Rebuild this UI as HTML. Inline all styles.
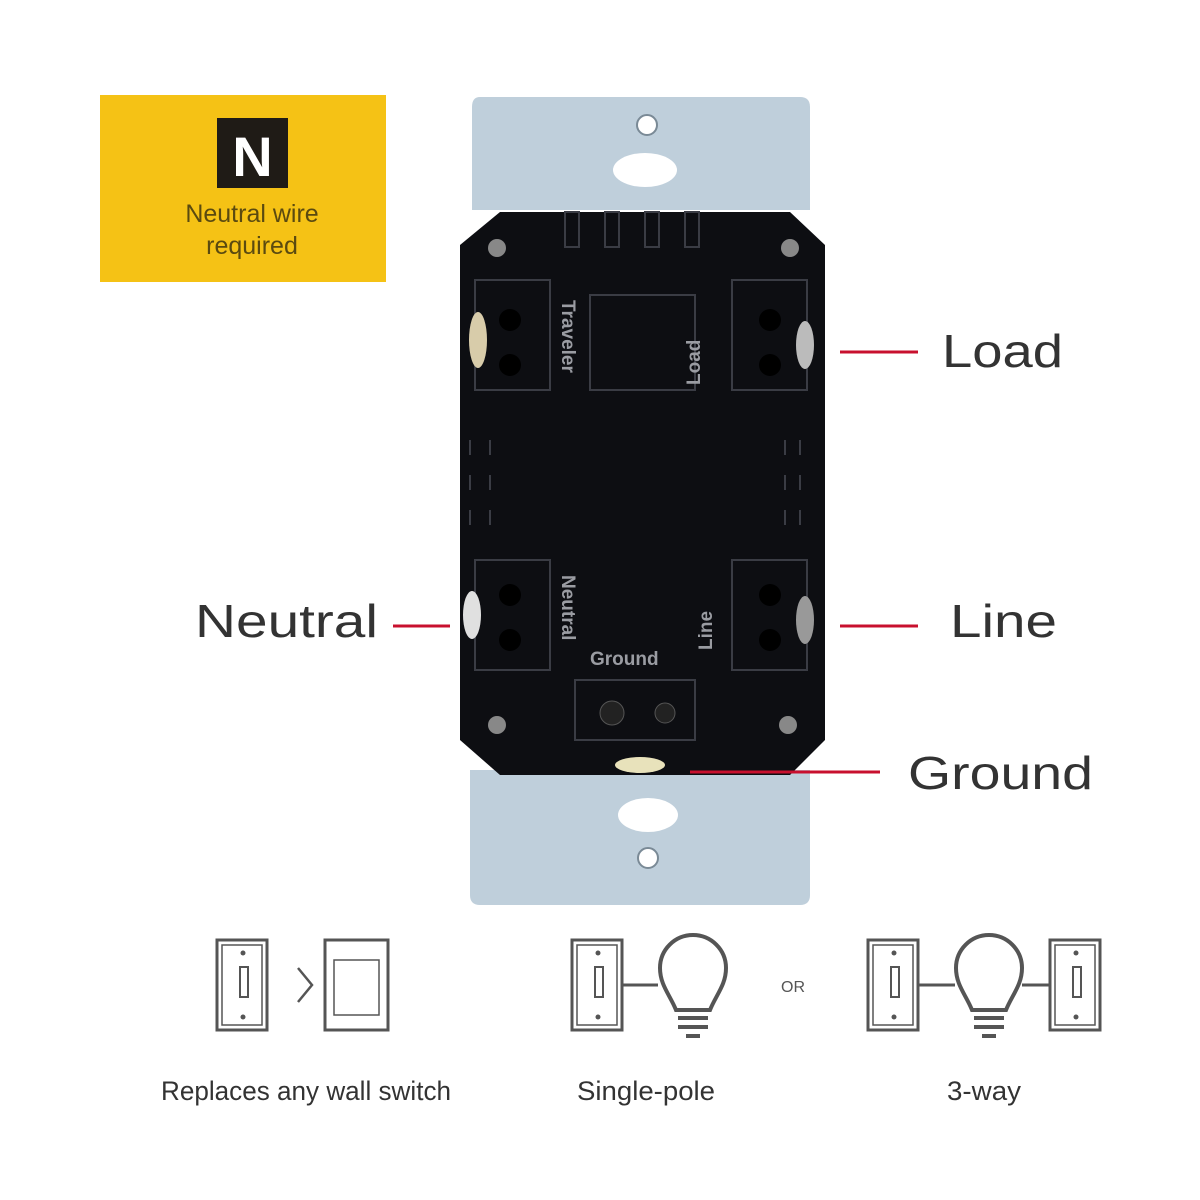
<!DOCTYPE html>
<html><head><meta charset="utf-8"><style>
html,body{margin:0;padding:0;background:#fff;width:1200px;height:1200px;overflow:hidden}
svg{display:block}
text{font-family:"Liberation Sans",sans-serif}
</style></head><body>
<svg width="1200" height="1200" viewBox="0 0 1200 1200" xmlns="http://www.w3.org/2000/svg">
<rect width="1200" height="1200" fill="#fff"/>
<rect x="100" y="95" width="286" height="187" fill="#f5c215"/>
<rect x="217" y="118" width="71" height="70" fill="#1f1b16"/>
<text x="252.5" y="176" text-anchor="middle" font-size="56" font-weight="bold" fill="#fff">N</text>
<text x="252" y="222" text-anchor="middle" font-size="25" fill="#5a4a10">Neutral wire</text>
<text x="252" y="254" text-anchor="middle" font-size="25" fill="#5a4a10">required</text>

<path d="M480 97 H800 Q810 97 810 107 V210 H472 V107 Q472 97 480 97Z" fill="#bfcfdb"/>
<circle cx="647" cy="125" r="10" fill="#fff" stroke="#7a8a96" stroke-width="2"/>
<ellipse cx="645" cy="170" rx="32" ry="17" fill="#fff"/>
<path d="M470 770 H810 V895 Q810 905 800 905 H480 Q470 905 470 895Z" fill="#bfcfdb"/>
<ellipse cx="648" cy="815" rx="30" ry="17" fill="#fff"/>
<circle cx="648" cy="858" r="10" fill="#fff" stroke="#7a8a96" stroke-width="2"/>

<path d="M500 212 H790 L825 245 V740 L790 775 H500 L460 740 V245Z" fill="#0d0e12"/>
<g fill="none" stroke="#3a3c44" stroke-width="2">
<rect x="565" y="212" width="14" height="35"/><rect x="605" y="212" width="14" height="35"/>
<rect x="645" y="212" width="14" height="35"/><rect x="685" y="212" width="14" height="35"/>
<rect x="590" y="295" width="105" height="95"/>
<rect x="475" y="280" width="75" height="110"/><rect x="732" y="280" width="75" height="110"/>
<rect x="475" y="560" width="75" height="110"/><rect x="732" y="560" width="75" height="110"/>
<rect x="575" y="680" width="120" height="60"/>
<path d="M470 440 v15 M490 440 v15 M470 475 v15 M490 475 v15 M470 510 v15 M490 510 v15"/>
<path d="M785 440 v15 M800 440 v15 M785 475 v15 M800 475 v15 M785 510 v15 M800 510 v15"/>
</g>
<g fill="#000">
<circle cx="510" cy="320" r="11"/><circle cx="510" cy="365" r="11"/>
<circle cx="770" cy="320" r="11"/><circle cx="770" cy="365" r="11"/>
<circle cx="510" cy="595" r="11"/><circle cx="510" cy="640" r="11"/>
<circle cx="770" cy="595" r="11"/><circle cx="770" cy="640" r="11"/>
</g>
<circle cx="612" cy="713" r="12" fill="#222" stroke="#555"/>
<circle cx="665" cy="713" r="10" fill="#222" stroke="#555"/>
<ellipse cx="478" cy="340" rx="9" ry="28" fill="#d8ccaa"/>
<ellipse cx="472" cy="615" rx="9" ry="24" fill="#e0e0e0"/>
<ellipse cx="805" cy="345" rx="9" ry="24" fill="#bbb"/>
<ellipse cx="805" cy="620" rx="9" ry="24" fill="#999"/>
<ellipse cx="640" cy="765" rx="25" ry="8" fill="#e8e2bb"/>
<g fill="#888"><circle cx="497" cy="248" r="9"/><circle cx="790" cy="248" r="9"/><circle cx="497" cy="725" r="9"/><circle cx="788" cy="725" r="9"/></g>
<g font-size="19" font-weight="bold" fill="#9a9ca2">
<text transform="translate(562,300) rotate(90)">Traveler</text>
<text transform="translate(700,385) rotate(-90)">Load</text>
<text transform="translate(562,575) rotate(90)">Neutral</text>
<text transform="translate(712,650) rotate(-90)">Line</text>
<text x="590" y="665">Ground</text>
</g>

<g stroke="#c8102e" stroke-width="3">
<line x1="840" y1="352" x2="918" y2="352"/>
<line x1="840" y1="626" x2="918" y2="626"/>
<line x1="393" y1="626" x2="450" y2="626"/>
<line x1="690" y1="772" x2="880" y2="772"/>
</g>
<g font-size="46" fill="#333" lengthAdjust="spacingAndGlyphs">
<text x="942" y="367" textLength="121" lengthAdjust="spacingAndGlyphs">Load</text>
<text x="950" y="637" textLength="107" lengthAdjust="spacingAndGlyphs">Line</text>
<text x="195" y="637" textLength="183" lengthAdjust="spacingAndGlyphs">Neutral</text>
<text x="908" y="789" textLength="185" lengthAdjust="spacingAndGlyphs">Ground</text>
</g>

<g fill="none" stroke="#555" stroke-width="3">
<rect x="217" y="940" width="50" height="90"/><rect x="222" y="945" width="40" height="80" stroke-width="1.5"/>
<rect x="240" y="967" width="8" height="30" stroke-width="2"/>
<polyline points="298,968 312,985 298,1002" stroke-width="2.5"/>
<rect x="325" y="940" width="63" height="90"/><rect x="334" y="960" width="45" height="55" stroke-width="1.5"/>
<rect x="572" y="940" width="50" height="90"/><rect x="577" y="945" width="40" height="80" stroke-width="1.5"/>
<rect x="595" y="967" width="8" height="30" stroke-width="2"/>
<line x1="622" y1="985" x2="658" y2="985"/>
<path d="M676 1010 C670 995 660 985 660 968 A33 33 0 0 1 726 968 C726 985 716 995 710 1010Z" stroke-width="4"/>
<rect x="868" y="940" width="50" height="90"/><rect x="873" y="945" width="40" height="80" stroke-width="1.5"/>
<rect x="891" y="967" width="8" height="30" stroke-width="2"/>
<line x1="918" y1="985" x2="955" y2="985"/>
<path d="M972 1010 C966 995 956 985 956 968 A33 33 0 0 1 1022 968 C1022 985 1012 995 1006 1010Z" stroke-width="4"/>
<line x1="1022" y1="985" x2="1050" y2="985"/>
<rect x="1050" y="940" width="50" height="90"/><rect x="1055" y="945" width="40" height="80" stroke-width="1.5"/>
<rect x="1073" y="967" width="8" height="30" stroke-width="2"/>
</g>
<g fill="#555">
<circle cx="243" cy="953" r="2.5"/><circle cx="243" cy="1017" r="2.5"/>
<circle cx="598" cy="953" r="2.5"/><circle cx="598" cy="1017" r="2.5"/>
<circle cx="894" cy="953" r="2.5"/><circle cx="894" cy="1017" r="2.5"/>
<circle cx="1076" cy="953" r="2.5"/><circle cx="1076" cy="1017" r="2.5"/>
<rect x="678" y="1016" width="30" height="4"/><rect x="678" y="1025" width="30" height="4"/><rect x="686" y="1034" width="14" height="4"/>
<rect x="974" y="1016" width="30" height="4"/><rect x="974" y="1025" width="30" height="4"/><rect x="982" y="1034" width="14" height="4"/>
</g>
<text x="793" y="992" text-anchor="middle" font-size="16" fill="#555">OR</text>
<g font-size="27" fill="#333" text-anchor="middle">
<text x="306" y="1100" textLength="290" lengthAdjust="spacingAndGlyphs">Replaces any wall switch</text>
<text x="646" y="1100" textLength="138" lengthAdjust="spacingAndGlyphs">Single-pole</text>
<text x="984" y="1100" textLength="74" lengthAdjust="spacingAndGlyphs">3-way</text>
</g>
</svg>
</body></html>
